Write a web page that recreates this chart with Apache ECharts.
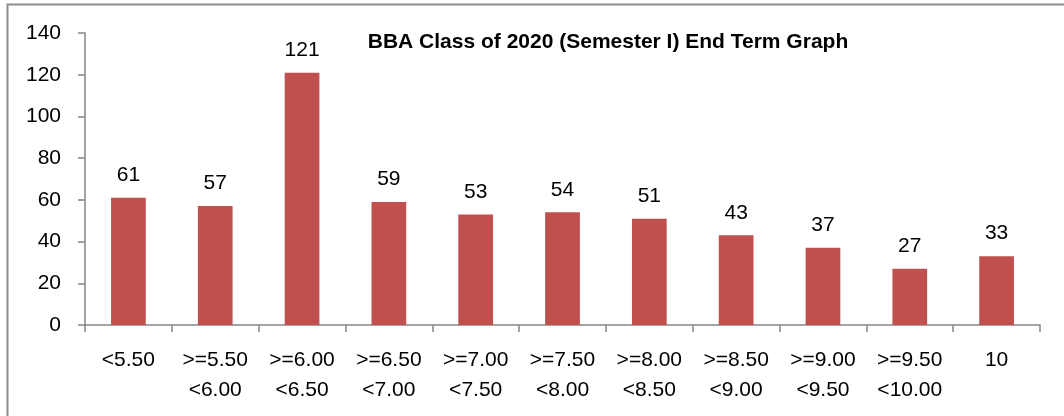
<!DOCTYPE html>
<html>
<head>
<meta charset="utf-8">
<script src="https://cdn.jsdelivr.net/npm/echarts@6/dist/echarts.min.js"></script>
<style>
  html, body { margin: 0; padding: 0; background: #fff; }
  #chart { width: 1064px; height: 416px; }
</style>
</head>
<body>
<div id="chart"></div>
<script>
  // data
  var categories = ['<5.50', '>=5.50\n<6.00', '>=6.00\n<6.50', '>=6.50\n<7.00', '>=7.00\n<7.50',
    '>=7.50\n<8.00', '>=8.00\n<8.50', '>=8.50\n<9.00', '>=9.00\n<9.50', '>=9.50\n<10.00', '10'];
  var counts = [61, 57, 121, 59, 53, 54, 51, 43, 37, 27, 33];
  var titleText = 'BBA Class of 2020 (Semester I) End Term Graph';

  var font = '"Liberation Sans", Arial, sans-serif';
  var chart = echarts.init(document.getElementById('chart'));
  chart.setOption({
    animation: false,
    title: {
      text: titleText,
      left: 608,
      top: 27,
      textAlign: 'center',
      textStyle: { fontFamily: font, fontSize: 21, fontWeight: 'bold', color: '#000' }
    },
    graphic: [{
      type: 'rect',
      shape: { x: 7.5, y: 4.5, width: 1100, height: 500 },
      style: { fill: 'none', stroke: '#8c8c8c', lineWidth: 2 },
      silent: true
    }],
    grid: { left: 85, right: 24, top: 33, bottom: 91 },
    xAxis: {
      type: 'category',
      data: categories,
      axisLine: { lineStyle: { color: '#868686', width: 1.5 } },
      axisTick: { show: true, length: 7, lineStyle: { color: '#868686', width: 1.5 } },
      axisLabel: { color: '#000', fontFamily: font, fontSize: 21, lineHeight: 30, margin: 20, interval: 0 }
    },
    yAxis: {
      type: 'value',
      min: 0,
      max: 140,
      interval: 20,
      splitLine: { show: false },
      axisLine: { show: true, lineStyle: { color: '#868686', width: 1.5 } },
      axisTick: { show: true, length: 7, lineStyle: { color: '#868686', width: 1.5 } },
      axisLabel: { color: '#000', fontFamily: font, fontSize: 21, margin: 24 }
    },
    series: [{
      type: 'bar',
      data: counts,
      barWidth: '40%',
      itemStyle: { color: '#C0504D' },
      label: {
        show: true,
        position: 'top',
        distance: 12,
        color: '#000',
        fontFamily: font,
        fontSize: 21
      }
    }]
  });
  // nudge the title so its span matches the reference
  chart.setOption({ title: { left: 603 } });
</script>
</body>
</html>
